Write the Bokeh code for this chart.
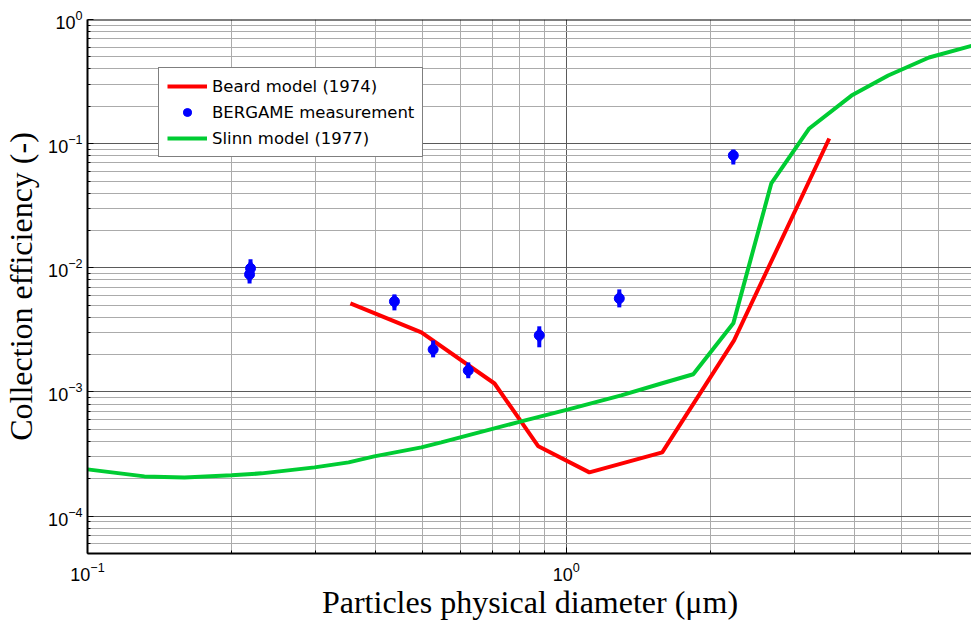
import numpy as np
from bokeh.plotting import figure
from bokeh.models import Range1d, FixedTicker, Legend, LegendItem, Span
from bokeh.embed import file_html
from bokeh.resources import INLINE

# ---- data ----
beard_d = [0.354, 0.498, 0.708, 0.874, 1.117, 1.586, 2.24, 3.54]
beard_e = [5.17e-3, 3.02e-3, 1.17e-3, 3.65e-4, 2.25e-4, 3.26e-4, 2.60e-3, 0.110]

slinn_d = [0.100, 0.1315, 0.1594, 0.200, 0.231, 0.298, 0.351, 0.397, 0.498, 0.548,
           0.805, 1.01, 1.302, 1.579, 1.841, 2.232, 2.679, 3.216, 3.94, 4.70, 5.72, 7.05]
slinn_e = [2.38e-4, 2.09e-4, 2.05e-4, 2.13e-4, 2.21e-4, 2.47e-4, 2.71e-4, 3.03e-4, 3.58e-4, 3.93e-4,
           5.80e-4, 7.24e-4, 9.39e-4, 1.17e-3, 1.39e-3, 3.57e-3, 0.0478, 0.1325, 0.244, 0.354, 0.494, 0.617]

meas_d = [0.219, 0.218, 0.4375, 0.527, 0.624, 0.878, 1.290, 2.232]
meas_e = [9.9e-3, 8.85e-3, 5.36e-3, 2.20e-3, 1.49e-3, 2.86e-3, 5.67e-3, 0.0804]
meas_lo = [8.37e-3, 7.49e-3, 4.54e-3, 1.90e-3, 1.29e-3, 2.29e-3, 4.80e-3, 0.0680]
meas_hi = [0.0117, 0.01064, 6.11e-3, 2.60e-3, 1.73e-3, 3.38e-3, 6.70e-3, 0.0881]

x_major = [0.1, 1.0]
y_major = [1e-4, 1e-3, 1e-2, 1e-1, 1.0]
x_minor = [m * 10.0 ** k for k in range(-2, 1) for m in range(2, 10)]
y_minor = [m * 10.0 ** k for k in range(-5, 0) for m in range(2, 10)]

RED = "#ff0000"
GREEN = "#00cc33"
BLUE = "#0000ff"

p = figure(frame_width=885, frame_height=534, x_axis_type="log", y_axis_type="log",
           x_range=Range1d(0.1, 7.05), y_range=Range1d(5e-5, 1.0),
           output_backend="svg", toolbar_location=None,
           min_border_left=86, min_border_right=0, min_border_top=19, min_border_bottom=75)
p.outline_line_color = None
p.background_fill_color = "white"
p.border_fill_color = "white"

p.xaxis.ticker = FixedTicker(ticks=x_major, minor_ticks=x_minor)
p.yaxis.ticker = FixedTicker(ticks=y_major, minor_ticks=y_minor)

for ax in (p.xaxis[0], p.yaxis[0]):
    ax.axis_line_color = "black"
    ax.axis_line_width = 2
    ax.major_tick_in = 6
    ax.major_tick_out = 0
    ax.minor_tick_in = 3
    ax.minor_tick_out = 0
    ax.major_tick_line_color = "black"
    ax.minor_tick_line_color = "black"
    ax.major_label_text_font = "Liberation Sans"
    ax.major_label_text_font_size = "18px"
    ax.major_label_text_color = "black"
    ax.axis_label_text_font = "Liberation Serif"
    ax.axis_label_text_font_size = "32px"
    ax.axis_label_text_font_style = "normal"
    ax.axis_label_text_color = "black"

p.xaxis.axis_label = "Particles physical diameter (μm)"
p.yaxis.axis_label = "Collection efficiency (-)"
p.xaxis.major_label_standoff = 8
p.yaxis.major_label_standoff = 5
p.xaxis.axis_label_standoff = 0
p.yaxis.axis_label_standoff = 6

for g in (p.xgrid[0], p.ygrid[0]):
    g.grid_line_color = "#5a5a5a"
    g.grid_line_width = 1
    g.minor_grid_line_color = "#ababab"
    g.minor_grid_line_width = 1

p.add_layout(Span(location=1.0, dimension="width", line_color="black", line_width=2))

r_beard = p.line(beard_d, beard_e, line_color=RED, line_width=4)
r_slinn = p.line(slinn_d, slinn_e, line_color=GREEN, line_width=4)
p.segment(x0=meas_d, y0=meas_lo, x1=meas_d, y1=meas_hi, line_color=BLUE, line_width=4)
r_bar = p.scatter(meas_d, meas_e, marker="dash", angle=np.pi / 2, size=12,
                  line_color=BLUE, line_width=4)
r_meas = p.scatter(meas_d, meas_e, marker="circle", size=10,
                   fill_color=BLUE, line_color=BLUE)

legend = Legend(items=[
    LegendItem(label="Beard model (1974)", renderers=[r_beard]),
    LegendItem(label="BERGAME measurement", renderers=[r_bar, r_meas]),
    LegendItem(label="Slinn model (1977)", renderers=[r_slinn]),
], location=(71, 396))
legend.label_text_font = "DejaVu Sans"
legend.label_text_font_size = "16.5px"
legend.label_text_color = "black"
legend.glyph_width = 40
legend.glyph_height = 20
legend.label_height = 20
legend.label_standoff = 5
legend.spacing = 6
legend.padding = 8
legend.margin = 0
legend.border_line_color = "black"
legend.border_line_width = 1
legend.background_fill_color = "white"
legend.background_fill_alpha = 1.0
p.add_layout(legend)

open("out.html", "w").write(file_html(p, INLINE))
